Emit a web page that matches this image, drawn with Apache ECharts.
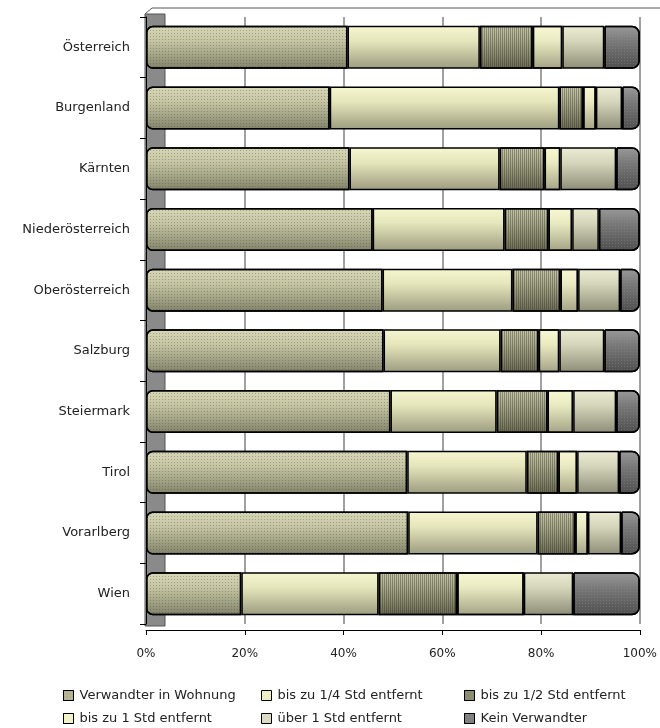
<!DOCTYPE html>
<html>
<head>
<meta charset="utf-8">
<script src="https://cdn.jsdelivr.net/npm/echarts@6/dist/echarts.min.js"></script>
<style>html,body{margin:0;padding:0;background:#fff}#c{width:660px;height:728px}</style>
</head>
<body>
<div id="c"></div>
<script>
var categories = ['Österreich','Burgenland','Kärnten','Niederösterreich','Oberösterreich','Salzburg','Steiermark','Tirol','Vorarlberg','Wien'];
var seriesNames = ['Verwandter in Wohnung','bis zu 1/4 Std entfernt','bis zu 1/2 Std entfernt','bis zu 1 Std entfernt','über 1 Std entfernt','Kein Verwandter'];
var inWohnung   = [40.8, 37.2, 41.2, 45.9, 47.9, 48.1, 49.5, 52.9, 53.1, 19.3];
var bisViertel  = [26.8, 46.5, 30.4, 26.7, 26.3, 23.7, 21.5, 24.2, 26.2, 27.8];
var bisHalb     = [10.7,  4.8,  9.1,  8.9,  9.7,  7.7, 10.3,  6.4,  7.6, 15.9];
var bisEins     = [ 6.0,  2.6,  3.2,  4.8,  3.6,  4.2,  5.2,  3.8,  2.6, 13.5];
var ueberEins   = [ 8.5,  5.3, 11.3,  5.4,  8.5,  9.1,  8.7,  8.5,  6.7, 10.0];
var keinVerw    = [ 7.2,  3.6,  4.8,  8.3,  4.0,  7.2,  4.8,  4.2,  3.8, 13.5];
var tickLabels  = ['0%','20%','40%','60%','80%','100%'];

var values = [inWohnung, bisViertel, bisHalb, bisEins, ueberEins, keinVerw];
function grad(top, mid, bot){
  return new echarts.graphic.LinearGradient(0,0,0,1,[
    {offset:0,color:top},{offset:0.35,color:mid},{offset:1,color:bot}]);
}
var styles = [
  {color: grad('#d8d8b8','#c6c6a4','#82826a'), flat:'#b8b898',
   decal:{symbol:'rect',symbolSize:1,dashArrayX:[1,2],dashArrayY:[1,2],color:'rgba(70,70,50,0.35)'}},
  {color: grad('#f6f6d0','#e6e6bc','#9c9c80'), flat:'#eeeec4', decal:null},
  {color: grad('#c8c8a6','#acac8a','#6a6a52'), flat:'#a4a484',
   decal:{symbol:'rect',symbolSize:1,dashArrayX:[[1,1]],dashArrayY:[1,0],color:'rgba(50,50,35,0.4)'}},
  {color: grad('#f8f8d4','#eaeac2','#a4a486'), flat:'#f2f2c8',
   decal:{symbol:'rect',symbolSize:1,dashArrayX:[1,0],dashArrayY:[[1,2]],color:'rgba(160,160,120,0.4)'}},
  {color: grad('#ececd4','#d6d6bc','#8e8e78'), flat:'#dcdcc4', decal:null},
  {color: grad('#9a9a9a','#7a7a7a','#4e4e4e'), flat:'#808080',
   decal:{symbol:'rect',symbolSize:1,dashArrayX:[1,2],dashArrayY:[1,2],color:'rgba(150,150,150,0.35)'}}
];

var series = values.map(function(v, i){
  var st = {color: styles[i].color, borderColor:'#000', borderWidth:1.5};
  if (styles[i].decal) st.decal = styles[i].decal;
  if (i === 0) st.borderRadius = [6,0,0,6];
  if (i === 5) st.borderRadius = [0,7,7,0];
  return {
    name: seriesNames[i], type:'bar', stack:'total', data:v,
    barWidth: 43, itemStyle: st, z: 3,
    emphasis:{disabled:true}
  };
});

var legendPos = [[58,684],[256,684],[459,684],[58,707],[256,707],[459,707]];
var legends = seriesNames.map(function(n,i){
  return {
    left: legendPos[i][0], top: legendPos[i][1], orient:'horizontal',
    itemWidth:10, itemHeight:10, itemGap:4, icon:'rect',
    data:[{name:n, itemStyle:{color:styles[i].flat, borderColor:'#000', borderWidth:1, decal: styles[i].decal || 'none'}}],
    textStyle:{fontFamily:'DejaVu Sans', fontSize:13, color:'#222', padding:[0,0,0,1]},
    selectedMode:false
  };
});

var chart = echarts.init(document.getElementById('c'), null, {renderer:'canvas'});
chart.setOption({
  animation:false,
  backgroundColor:'#fff',
  grid:{left:146, right:14, top:17, height:607, containLabel:false},
  graphic:[
    {type:'rect', shape:{x:145,y:14,width:20,height:612}, style:{fill:'#8a8a8a', stroke:'#555', lineWidth:1}, z:0},
    {type:'polyline', shape:{points:[[145,14],[152,8],[660,8]]}, style:{stroke:'#555', lineWidth:1, fill:null}, z:0}
  ],
  xAxis:{
    type:'value', min:0, max:100, interval:20,
    offset:6,
    axisLine:{show:true, lineStyle:{color:'#000', width:1}},
    axisTick:{show:true, length:5, lineStyle:{color:'#000'}},
    axisLabel:{margin:18, fontFamily:'DejaVu Sans', fontSize:12, color:'#222',
      formatter:function(v){ return tickLabels[Math.round(v/20)]; }},
    splitLine:{show:true, lineStyle:{color:'#808080', width:1.5}}
  },
  yAxis:{
    type:'category', data:categories, inverse:true,
    axisLine:{show:true, lineStyle:{color:'#000'}},
    axisTick:{show:true, length:6, lineStyle:{color:'#000'}},
    axisLabel:{margin:16, fontFamily:'DejaVu Sans', fontSize:13, color:'#222'}
  },
  legend: legends,
  series: series
});
</script>
</body>
</html>
